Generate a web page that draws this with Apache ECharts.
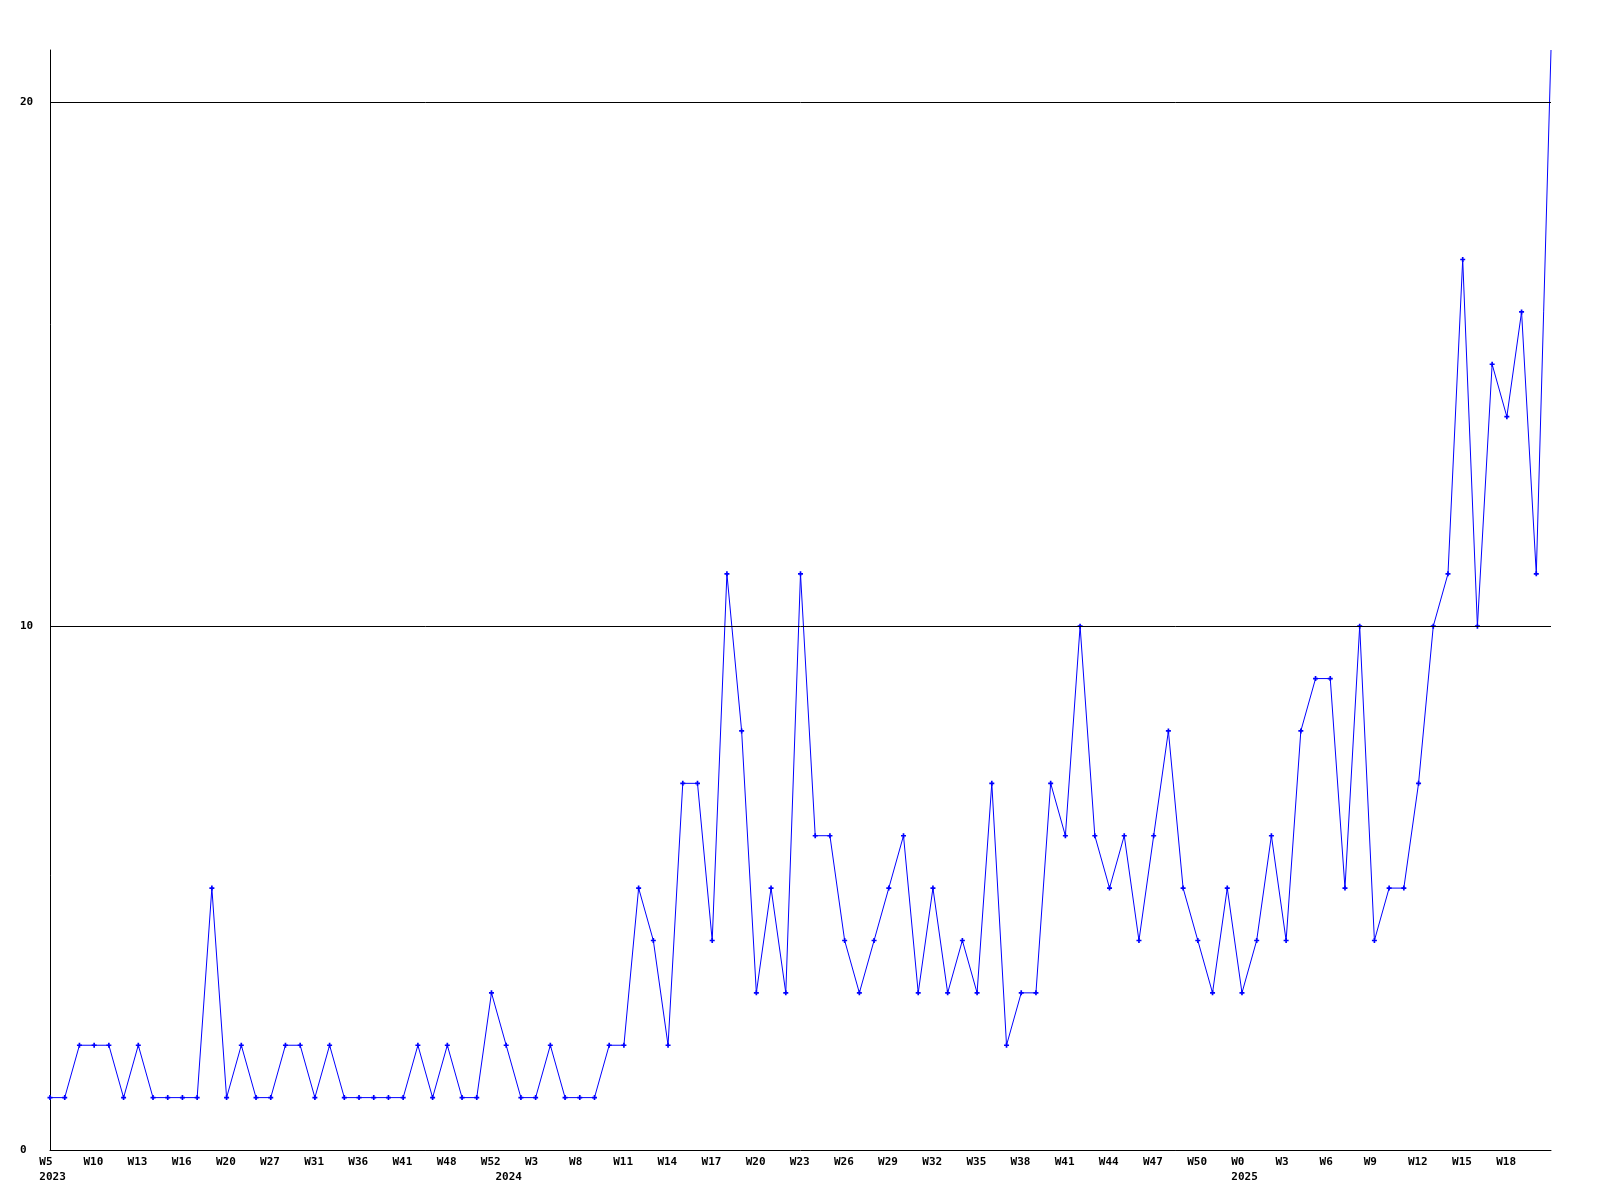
<!DOCTYPE html>
<html>
<head>
<meta charset="utf-8">
<script src="https://cdn.jsdelivr.net/npm/echarts@6/dist/echarts.min.js"></script>
<style>
  html, body { margin: 0; padding: 0; background: #ffffff; }
  #chart { width: 1600px; height: 1200px; }
</style>
</head>
<body>
<div id="chart"></div>
<script>
// Tick labels on the x axis: one label every 3rd sample
const weekLabels = ['W5','W10','W13','W16','W20','W27','W31','W36','W41','W48','W52','W3',
  'W8','W11','W14','W17','W20','W23','W26','W29','W32','W35','W38','W41','W44','W47','W50',
  'W0','W3','W6','W9','W12','W15','W18'];
const labelStep = 3;

// Year labels and the sample index where each one sits
const yearLabels = ['2023', '2024', '2025'];
const yearAt = [0, 31, 81];

// Sample values (one per sample, in order)
const values = [1,1,2,2,2,1,2,1,1,1, 1,5,1,2,1,1,2,2,1,2,
  1,1,1,1,1,2,1,2,1,1, 3,2,1,1,2,1,1,1,2,2,
  5,4,2,7,7,4,11,8,3,5, 3,11,6,6,4,3,4,5,6,3,
  5,3,4,3,7,2,3,3,7,6, 10,6,5,6,4,6,8,5,4,3,
  5,3,4,6,4,8,9,9,5,10, 4,5,5,7,10,11,17,10,15,14,
  16,11,21];

// Y axis
const yTicks = [0, 10, 20];
const yMax = 21;
const gridLevels = [10, 20];

const seriesData = values.map((v, i) => [i, v]);
const lastIndex = values.length - 1;

const FONT = 'DejaVu Sans Mono';
const PLUS = 'path://M1,0H2V1H3V2H2V3H1V2H0V1H1Z';
const chart = echarts.init(document.getElementById('chart'), null, { renderer: 'canvas' });

function richFor(txt) {
  if (txt.length <= 2) return '{a|' + txt + '}';
  if (txt.length === 3) return '{b|' + txt + '}';
  return '{c|' + txt + '}';
}
const rich = {
  a: { fontFamily: FONT, fontWeight: 'bold', fontSize: 11, color: '#000', lineHeight: 11, padding: [0, 8.2, 0, 0] },
  b: { fontFamily: FONT, fontWeight: 'bold', fontSize: 11, color: '#000', lineHeight: 11, padding: [0, 1.5, 0, 0] },
  c: { fontFamily: FONT, fontWeight: 'bold', fontSize: 11, color: '#000', lineHeight: 11, padding: [0, 0, 0, 5.1] }
};

chart.setOption({
  animation: false,
  backgroundColor: '#ffffff',
  grid: { left: 50, right: 49, top: 50, bottom: 50, containLabel: false },
  xAxis: [{
    type: 'value',
    min: 0,
    max: lastIndex,
    interval: labelStep,
    position: 'bottom',
    axisLine: { show: true, onZero: false, lineStyle: { color: '#000', width: 1 } },
    axisTick: { show: false },
    splitLine: { show: false },
    axisLabel: {
      show: true,
      margin: 7,
      align: 'center',
      showMinLabel: true,
      showMaxLabel: true,
      formatter: function (v) {
        const k = Math.round(v / labelStep);
        const t = weekLabels[k];
        return t ? richFor(t) : '';
      },
      rich: rich
    }
  }, {
    type: 'value',
    min: 0,
    max: lastIndex,
    interval: 1,
    position: 'bottom',
    axisLine: { show: false },
    axisTick: { show: false },
    splitLine: { show: false },
    axisLabel: {
      show: true,
      margin: 22,
      align: 'center',
      showMinLabel: true,
      showMaxLabel: true,
      formatter: function (v) {
        const k = yearAt.indexOf(Math.round(v));
        return k >= 0 ? richFor(yearLabels[k]) : '';
      },
      rich: rich
    }
  }],
  yAxis: {
    type: 'value',
    min: 0,
    max: yMax,
    interval: 10,
    axisLine: { show: true, onZero: false, lineStyle: { color: '#000', width: 1 } },
    axisTick: { show: false },
    splitLine: { show: false },
    axisLabel: {
      show: true,
      align: 'left',
      margin: 30,
      showMaxLabel: false,
      fontFamily: FONT,
      fontWeight: 'bold',
      fontSize: 11,
      color: '#000',
      formatter: function (v) { return yTicks.indexOf(v) >= 0 ? String(v) : ''; }
    }
  },
  series: [{
    type: 'line',
    xAxisIndex: 0,
    data: seriesData,
    symbol: function (val, params) { return params.dataIndex === lastIndex ? 'none' : PLUS; },
    symbolSize: 5,
    showSymbol: true,
    showAllSymbol: true,
    lineStyle: { color: '#0000ff', width: 1 },
    itemStyle: { color: '#0000ff' },
    clip: true,
    silent: true,
    markLine: {
      silent: true,
      symbol: ['none', 'none'],
      label: { show: false },
      lineStyle: { color: '#000', width: 1, type: 'solid' },
      emphasis: { disabled: true },
      data: gridLevels.map(l => ({ yAxis: l }))
    }
  }]
});
</script>
</body>
</html>
